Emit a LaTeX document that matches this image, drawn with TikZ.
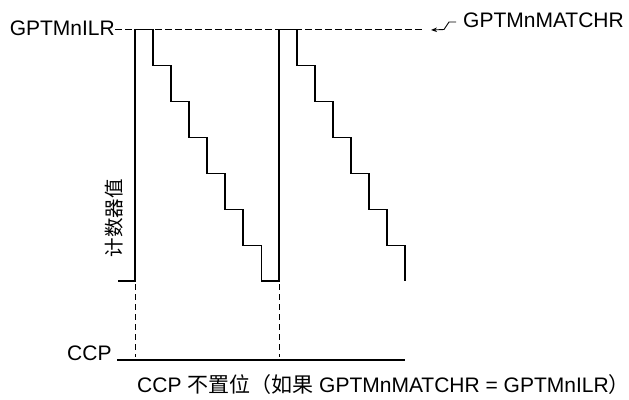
\documentclass[tikz,border=0pt]{standalone}
\usepackage{fontspec}
\setmainfont{Liberation Sans}
\newfontfamily\cjk{Noto Sans CJK SC}
\usetikzlibrary{arrows.meta}
\begin{document}
\begin{tikzpicture}[x=1pt,y=-1pt,
  lbl/.style={inner sep=0pt,font=\fontsize{21}{25}\selectfont},
  wave/.style={line width=1.9pt,line join=miter},
  guide/.style={line width=0.9pt,dash pattern=on 7pt off 3pt},
  vguide/.style={line width=1pt,dash pattern=on 6pt off 4pt}]
\useasboundingbox (0,0) rectangle (629,399);
% labels
\node[lbl,anchor=base east] (ilr) at (115,35) {GPTMnILR};
\node[lbl,anchor=base west] (match) at (463,27) {GPTMnMATCHR};
\node[lbl,anchor=base west] (ccp) at (67,360) {CCP};
\node[lbl,anchor=center,rotate=90,font=\fontsize{19.5}{22}\selectfont\cjk] (cnt) at (114,218) {计数器值};
\node[lbl,anchor=base west] (note) at (137,392) {CCP {\cjk 不置位（如果} GPTMnMATCHR = GPTMnILR{\cjk ）}};
% guide lines
\coordinate (gend) at (423,29.5);
\draw[guide] (ilr.east |- 0,29.5) -- (gend);
\coordinate (atip) at (431,30);
\draw[line width=0.9pt,-{Stealth[length=6pt,width=4.5pt]}] (456,22) -- (449,22) -- (444,29.5) -- (atip);
% waveform
\draw[wave] (118,281) -- (135,281) -- (135,29.5) -- (153,29.5)
  -- (153,65.5) -- (171,65.5) -- (171,101.5) -- (189,101.5) -- (189,137.5) -- (207,137.5)
  -- (207,173.5) -- (225,173.5) -- (225,209.5) -- (243,209.5) -- (243,245.5) -- (261.5,245.5)
  -- (261.5,281) -- (279,281) -- (279,29.5) -- (297,29.5)
  -- (297,65.5) -- (315,65.5) -- (315,101.5) -- (333,101.5) -- (333,137.5) -- (351,137.5)
  -- (351,173.5) -- (369,173.5) -- (369,209.5) -- (387,209.5) -- (387,245.5) -- (405,245.5)
  -- (405,281);
% CCP line
\draw[line width=1.9pt] (117,360) -- (405,360);
% vertical guides
\draw[vguide] (135,284) -- (135,357);
\draw[vguide] (279,284) -- (279,357);
\end{tikzpicture}
\end{document}
